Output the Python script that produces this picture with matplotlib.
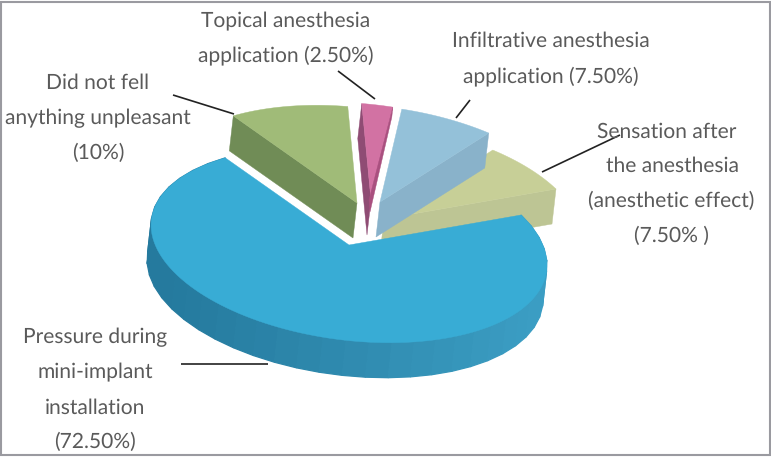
"""Exploded 3D pie of unpleasant sensations during mini-implant placement."""

import numpy as np
import matplotlib

matplotlib.use("Agg")
import matplotlib.pyplot as plt
from matplotlib.colors import to_rgb
from matplotlib.patches import Rectangle

# slices, counter-clockwise starting from the right hand cut
names = ["Sensation", "Infiltrative", "Topical", "Did not feel", "Pressure"]
values = [7.5, 7.5, 2.5, 10.0, 72.5]

# style: top face / wall colours, explode offset per slice
top_colors = ["#c7cf97", "#94c1d9", "#d272a3", "#a0bb78", "#38acd5"]
wall_colors = ["#bdc594", "#89b2ca", "#8f4c74", "#708c56", "#2f8fb4"]
explode_x = [19, 15, 6, -8, -16]
explode_y = [-6, -23, -25, -22, 20]

CENTER = np.array([365.0, 225.0])
AXIS_U = np.array([172.0, -30.0])
AXIS_V = np.array([-98.0, -93.0])
WALL = np.array([-4.0, 35.0])

plt.rcParams["font.family"] = ["Lato", "Open Sans", "DejaVu Sans"]
plt.rcParams["text.hinting"] = "no_hinting"
plt.rcParams["text.hinting_factor"] = 1

fig = plt.figure(figsize=(7.71, 4.57), dpi=100)
ax = fig.add_axes([0, 0, 1, 1])
ax.set_xlim(0, 771)
ax.set_ylim(457, 0)
ax.axis("off")


def rim(angles):
    rad = np.radians(angles)
    return np.outer(np.cos(rad), AXIS_U) + np.outer(np.sin(rad), AXIS_V)


def fill_poly(points, color, zorder, lw=0.3):
    ax.fill(points[:, 0], points[:, 1], color=color, lw=lw, zorder=zorder)


edges = np.concatenate([[0], np.cumsum(values)]) * 3.6

for i in range(len(values)):
    apex = CENTER + [explode_x[i], explode_y[i]]
    arc = apex + rim(np.linspace(edges[i], edges[i + 1], 120))
    z = 2 + i * 3
    if names[i] == "Pressure":
        # outer wall in thin bands, darker towards the left
        band_edges = np.linspace(edges[i], edges[i + 1], 40)
        band_pts = apex + rim(band_edges)
        left, right = np.array(to_rgb("#257a9e")), np.array(to_rgb("#3b9dc3"))
        for a, b in zip(band_pts[:-1], band_pts[1:]):
            mix = np.clip((a[0] - 170) / 360, 0, 1)
            fill_poly(np.array([a, b, b + WALL, a + WALL]), left + (right - left) * mix, z, lw=0.9)
    else:
        # cut wall on the visible side of the slice
        outer = arc[-1] if names[i] in ("Did not feel", "Topical") else arc[0]
        fill_poly(np.array([outer, apex, apex + WALL, outer + WALL]), wall_colors[i], z)
    fill_poly(np.vstack([apex, arc]), top_colors[i], z + 1)
    if names[i] == "Topical":
        # thin darker sliver along the right edge of the pink slice
        sliver = np.array([arc[0], arc[0] + [-1, 10], apex + [-1, 12], apex + [-2, 0]])
        fill_poly(sliver, "#a9507f", z + 2)

# leader lines
leader_x = [(173, 234), (338, 375), (470, 456), (620, 542), (181, 268)]
leader_y = [(95, 114), (71, 99), (100, 118), (135, 172), (364, 364)]
for xs, ys in zip(leader_x, leader_y):
    ax.plot(xs, ys, color="#222222", lw=1.2, zorder=30, solid_capstyle="butt")

# labels, one entry per line
label_lines = [
    "Topical anesthesia", "application (2.50%)",
    "Did not fell", "anything unpleasant", "(10%)",
    "Infiltrative anesthesia", "application (7.50%)",
    "Sensation after", "the anesthesia", "(anesthetic effect)", "(7.50% )",
    "Pressure during", "mini-implant", "installation", "(72.50%)",
]
label_x = [286, 286, 98, 98, 98, 551, 551, 667, 672, 671, 671, 95, 95, 95, 95]
label_y = [21, 55, 83, 118, 153, 41, 76, 132, 166, 201, 236, 337, 372, 408, 442]
for text, x, y in zip(label_lines, label_x, label_y):
    ax.text(x, y, text, ha="center", va="center", fontsize=15, color="#5a5a5a", zorder=40)

# grey frame of the figure panel
ax.add_patch(Rectangle((1.2, 1.5), 768.6, 453.5, fill=False, ec="#9a9aa0", lw=1.5, zorder=50))

fig.savefig("out.png", dpi=100)
